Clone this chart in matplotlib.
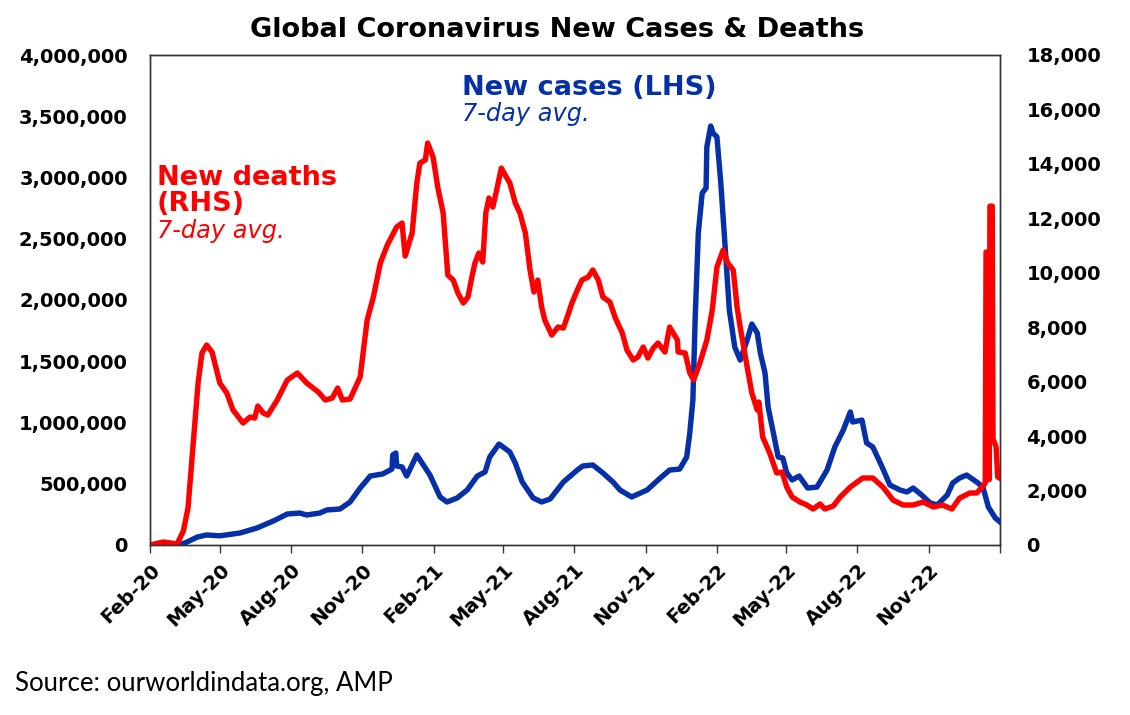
import matplotlib
matplotlib.use('Agg')
import pandas as pd
import matplotlib.pyplot as plt
from matplotlib.ticker import FuncFormatter

# new cases, 7-day avg (left axis)
case_dates = ['2020-02-01', '2020-03-04', '2020-03-17', '2020-04-02', '2020-04-14', '2020-05-01',
              '2020-05-27', '2020-06-18', '2020-07-09', '2020-07-27', '2020-08-12', '2020-08-21',
              '2020-09-07', '2020-09-16', '2020-10-03', '2020-10-16', '2020-10-29', '2020-11-11',
              '2020-11-27', '2020-12-09', '2020-12-10', '2020-12-14', '2020-12-15', '2020-12-22',
              '2020-12-28', '2021-01-10', '2021-01-27', '2021-02-09', '2021-02-18', '2021-03-03',
              '2021-03-16', '2021-03-29', '2021-04-08', '2021-04-14', '2021-04-26', '2021-05-10',
              '2021-05-17', '2021-05-26', '2021-06-09', '2021-06-20', '2021-07-01', '2021-07-18',
              '2021-08-05', '2021-08-12', '2021-08-25', '2021-09-07', '2021-09-20', '2021-09-29',
              '2021-10-14', '2021-11-03', '2021-11-20', '2021-12-02', '2021-12-15', '2021-12-24',
              '2021-12-28', '2022-01-01', '2022-01-04', '2022-01-08', '2022-01-13', '2022-01-18',
              '2022-01-19', '2022-01-24', '2022-01-27', '2022-02-01', '2022-02-06', '2022-02-11',
              '2022-02-17', '2022-02-24', '2022-03-03', '2022-03-12', '2022-03-18', '2022-03-25',
              '2022-03-29', '2022-04-04', '2022-04-08', '2022-04-14', '2022-04-21', '2022-04-27',
              '2022-05-02', '2022-05-09', '2022-05-18', '2022-05-29', '2022-06-10', '2022-06-23',
              '2022-07-03', '2022-07-14', '2022-07-23', '2022-07-26', '2022-08-07', '2022-08-13',
              '2022-08-21', '2022-09-02', '2022-09-12', '2022-09-25', '2022-10-04', '2022-10-12',
              '2022-10-23', '2022-11-03', '2022-11-12', '2022-11-25', '2022-12-02', '2022-12-11',
              '2022-12-20', '2023-01-02', '2023-01-10', '2023-01-17', '2023-01-26', '2023-02-01']
case_values = [0, 0, 16000, 65000, 82000, 75000,
               98000, 139000, 196000, 253000, 261000, 245000,
               261000, 286000, 294000, 351000, 465000, 563000,
               580000, 620000, 735000, 751000, 645000, 637000,
               563000, 735000, 571000, 392000, 351000, 384000,
               449000, 563000, 596000, 718000, 824000, 759000,
               669000, 514000, 384000, 351000, 376000, 514000,
               612000, 645000, 653000, 588000, 514000, 449000,
               392000, 449000, 547000, 612000, 620000, 718000,
               914000, 1184000, 1861000, 2547000, 2873000, 2914000,
               3249000, 3420000, 3363000, 3331000, 2955000, 2490000,
               1918000, 1616000, 1510000, 1673000, 1804000, 1731000,
               1567000, 1404000, 1126000, 939000, 718000, 710000,
               588000, 531000, 563000, 465000, 473000, 612000,
               800000, 939000, 1086000, 1004000, 1020000, 833000,
               800000, 637000, 490000, 449000, 433000, 465000,
               408000, 343000, 327000, 408000, 506000, 547000,
               571000, 514000, 473000, 310000, 220000, 188000]

# new deaths, 7-day avg (right axis)
death_dates = ['2020-02-01', '2020-02-18', '2020-03-07', '2020-03-15', '2020-03-21', '2020-03-27',
               '2020-04-03', '2020-04-08', '2020-04-14', '2020-04-21', '2020-05-01', '2020-05-10',
               '2020-05-18', '2020-05-31', '2020-06-09', '2020-06-15', '2020-06-19', '2020-06-26',
               '2020-07-02', '2020-07-14', '2020-07-27', '2020-08-09', '2020-08-21', '2020-09-05',
               '2020-09-14', '2020-09-23', '2020-09-30', '2020-10-06', '2020-10-16', '2020-10-29',
               '2020-11-07', '2020-11-15', '2020-11-24', '2020-12-03', '2020-12-15', '2020-12-22',
               '2020-12-26', '2021-01-04', '2021-01-10', '2021-01-14', '2021-01-21', '2021-01-24',
               '2021-01-31', '2021-02-06', '2021-02-13', '2021-02-19', '2021-02-26', '2021-03-04',
               '2021-03-11', '2021-03-17', '2021-03-22', '2021-03-26', '2021-03-31', '2021-04-05',
               '2021-04-09', '2021-04-13', '2021-04-18', '2021-04-23', '2021-04-29', '2021-05-04',
               '2021-05-10', '2021-05-17', '2021-05-23', '2021-05-30', '2021-06-05', '2021-06-10',
               '2021-06-15', '2021-06-20', '2021-06-24', '2021-07-03', '2021-07-11', '2021-07-18',
               '2021-07-23', '2021-07-29', '2021-08-05', '2021-08-11', '2021-08-19', '2021-08-25',
               '2021-09-01', '2021-09-07', '2021-09-16', '2021-09-23', '2021-10-02', '2021-10-08',
               '2021-10-16', '2021-10-22', '2021-10-29', '2021-11-04', '2021-11-11', '2021-11-17',
               '2021-11-26', '2021-12-02', '2021-12-12', '2021-12-13', '2021-12-22', '2021-12-28',
               '2022-01-02', '2022-01-10', '2022-01-19', '2022-01-26', '2022-02-01', '2022-02-09',
               '2022-02-15', '2022-02-22', '2022-02-27', '2022-03-03', '2022-03-12', '2022-03-18',
               '2022-03-25', '2022-03-27', '2022-04-01', '2022-04-10', '2022-04-19', '2022-04-26',
               '2022-05-02', '2022-05-09', '2022-05-19', '2022-05-28', '2022-06-05', '2022-06-14',
               '2022-06-20', '2022-07-01', '2022-07-10', '2022-07-23', '2022-08-08', '2022-08-21',
               '2022-09-03', '2022-09-16', '2022-09-29', '2022-10-12', '2022-10-25', '2022-11-07',
               '2022-11-19', '2022-12-01', '2022-12-11', '2022-12-24', '2023-01-02', '2023-01-09',
               '2023-01-13', '2023-01-14', '2023-01-17', '2023-01-18', '2023-01-19', '2023-01-22',
               '2023-01-23', '2023-01-27', '2023-01-29', '2023-02-01']
death_values = [0, 110, 40, 514, 1359, 3490,
                5950, 7052, 7346, 7089, 5950, 5583,
                4959, 4481, 4701, 4665, 5105, 4848,
                4775, 5326, 6060, 6318, 5950, 5620,
                5326, 5399, 5767, 5326, 5363, 6171,
                8264, 9109, 10358, 11019, 11680, 11827,
                10615, 11460, 13296, 14031, 14141, 14765,
                14251, 13149, 12194, 9917, 9733, 9256,
                8889, 9109, 9844, 10358, 10725, 10395,
                12194, 12745, 12415, 13039, 13847, 13590,
                13296, 12562, 12194, 11460, 10101, 9293,
                9733, 8742, 8264, 7713, 8007, 7970,
                8374, 8889, 9366, 9733, 9844, 10101,
                9733, 9109, 8925, 8338, 7787, 7162,
                6795, 6905, 7272, 6868, 7236, 7419,
                7089, 8007, 7530, 7089, 7052, 6318,
                6060, 6685, 7530, 8632, 10211, 10835,
                10358, 10101, 8742, 8007, 6538, 5583,
                4959, 5252, 3967, 3379, 2645, 2681,
                2130, 1763, 1579, 1469, 1322, 1506,
                1322, 1432, 1763, 2130, 2461, 2461,
                2130, 1653, 1469, 1469, 1579, 1396,
                1469, 1322, 1726, 1910, 1910, 2130,
                2277, 10762, 10762, 2400, 12450, 12450,
                3900, 3600, 2500, 2450]

tick_dates = pd.date_range('2020-02-01', '2023-02-01', freq='3MS')
tick_labels = [d.strftime('%b-%y') for d in tick_dates[:-1]] + ['']

BLUE = '#0530a8'
RED = '#ff0000'
W, H = 1130, 715

fig = plt.figure(figsize=(W / 100, H / 100), dpi=100)
ax = fig.add_axes([150 / W, 1 - 545 / H, 850 / W, 490 / H])
ax2 = ax.twinx()

ax.plot(pd.to_datetime(case_dates), case_values, color=BLUE, lw=3.9, solid_joinstyle='round')
ax2.plot(pd.to_datetime(death_dates), death_values, color=RED, lw=3.9, solid_joinstyle='round')

ax.set_xlim(tick_dates[0], tick_dates[-1])
ax.set_ylim(0, 4000000)
ax2.set_ylim(0, 18000)
ax.set_yticks(range(0, 4000001, 500000))
ax2.set_yticks(range(0, 18001, 2000))
fmt = FuncFormatter(lambda v, p: f'{v:,.0f}')
ax.yaxis.set_major_formatter(fmt)
ax2.yaxis.set_major_formatter(fmt)

ax.set_xticks(tick_dates)
ax.set_xticklabels(tick_labels, rotation=45, ha='right', rotation_mode='anchor')

for a in (ax, ax2):
    for lab in a.get_yticklabels() + a.get_xticklabels():
        lab.set_fontweight('bold')
        lab.set_fontsize(14)
        lab.set_family('DejaVu Sans')
    for s in a.spines.values():
        s.set_linewidth(1.0)
        s.set_color('#333333')
ax.tick_params(axis='y', length=0, pad=16)
ax2.tick_params(axis='y', length=0, pad=19)
ax.tick_params(axis='x', length=6, width=1, direction='out', pad=5, color='#333333')


def px(x, y):
    return x / W, 1 - y / H


fig.text(*px(557, 30), 'Global Coronavirus New Cases & Deaths', ha='center', va='center',
         fontsize=19.5, fontweight='bold', family='DejaVu Sans')
fig.text(*px(462, 95), 'New cases (LHS)', color=BLUE, fontsize=19.5, fontweight='bold',
         va='baseline', family='DejaVu Sans')
fig.text(*px(462, 121), '7-day avg.', color=BLUE, fontsize=17.3, style='italic',
         va='baseline', family='DejaVu Sans')
fig.text(*px(157, 185), 'New deaths', color=RED, fontsize=19.5, fontweight='bold',
         va='baseline', family='DejaVu Sans')
fig.text(*px(157, 211), '(RHS)', color=RED, fontsize=19.5, fontweight='bold',
         va='baseline', family='DejaVu Sans')
fig.text(*px(157, 238), '7-day avg.', color=RED, fontsize=17.3, style='italic',
         va='baseline', family='DejaVu Sans')
fig.text(*px(15, 684), 'Source: ourworldindata.org, AMP', va='center', fontsize=18.5,
         family=['Lato', 'DejaVu Sans'])

fig.savefig('out.png', dpi=100)
